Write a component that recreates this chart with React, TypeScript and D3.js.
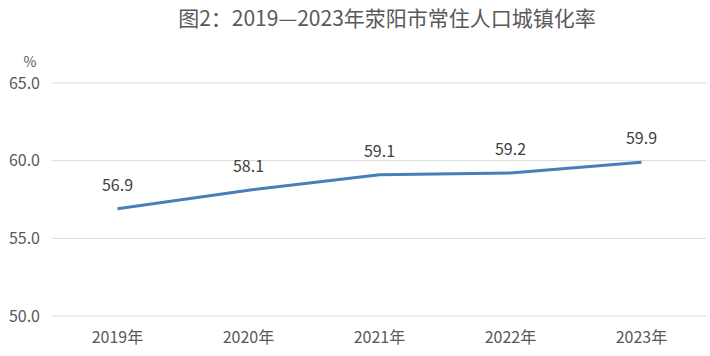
import React from "react";
import * as d3 from "d3";

const years = ["2019年", "2020年", "2021年", "2022年", "2023年"];
const rates = [56.9, 58.1, 59.1, 59.2, 59.9];
const yTicks = [50, 55, 60, 65];
const title = "图2：2019—2023年荥阳市常住人口城镇化率";

export default function App() {
  const W = 710, H = 356;
  const left = 52, right = 707, top = 83, bottom = 316;
  const x = d3.scaleBand<string>().domain(years).range([left, right]);
  const y = d3.scaleLinear().domain([50, 65]).range([bottom, top]);
  const line = d3
    .line<number>()
    .x((_, i) => (x(years[i]) as number) + x.bandwidth() / 2)
    .y((d) => y(d));
  const font = "'Noto Sans CJK SC', 'Noto Sans', sans-serif";
  return (
    <svg width={W} height={H} style={{ position: "absolute", left: 0, top: 0, background: "#fff" }} fontFamily={font}>
      <text x={387} y={26} textAnchor="middle" fontSize={21} fill="#595959">{title}</text>
      <text x={30} y={67} textAnchor="middle" fontSize={14} fill="#595959">%</text>
      {yTicks.map((t) => (
        <g key={t}>
          <line x1={left} x2={right - 1} y1={y(t)} y2={y(t)} stroke="#d9d9d9" strokeWidth={1} />
          <text x={40} y={y(t)} dy="0.35em" textAnchor="end" fontSize={16} fill="#595959">{t.toFixed(1)}</text>
        </g>
      ))}
      {years.map((c) => (
        <text key={c} x={(x(c) as number) + x.bandwidth() / 2} y={343} textAnchor="middle" fontSize={16} fill="#595959">{c}</text>
      ))}
      <path d={line(rates) || ""} fill="none" stroke="#4a7ebb" strokeWidth={3} strokeLinejoin="round" />
      {rates.map((v, i) => (
        <text key={i} x={(x(years[i]) as number) + x.bandwidth() / 2} y={y(v) - 18} textAnchor="middle" fontSize={16} fill="#404040">{v.toFixed(1)}</text>
      ))}
    </svg>
  );
}
